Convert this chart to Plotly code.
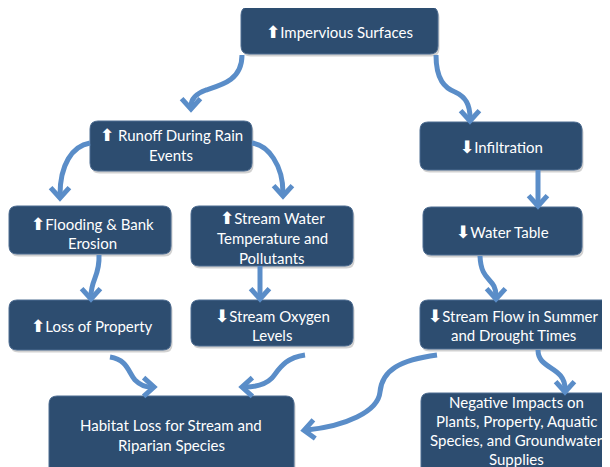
import math
import plotly.graph_objects as go

# ---- diagram content ----
UP = "<span style='font-family:DejaVu Sans;font-size:17px'><b>⬆</b></span>"
DN = "<span style='font-family:DejaVu Sans;font-size:17px'><b>⬇</b></span>"
node_labels = [
    [UP + "Impervious Surfaces"],
    [UP + " Runoff During Rain", "Events"],
    [DN + "Infiltration"],
    [UP + "Flooding & Bank", "Erosion"],
    [UP + "Stream Water", "Temperature and", "Pollutants"],
    [DN + "Water Table"],
    [UP + "Loss of Property"],
    [DN + "Stream Oxygen", "Levels"],
    [DN + "Stream Flow in Summer", "and Drought Times"],
    ["Habitat Loss for Stream and", "Riparian Species"],
    ["Negative Impacts on", "Plants, Property, Aquatic", "Species, and Groundwater", "Supplies"],
]

# ---- layout (pixel space) ----
node_boxes = [
    (241, 7, 438, 54),
    (90, 121, 252, 171),
    (420, 122, 582, 170),
    (9, 206, 171, 254),
    (191, 206, 353, 266),
    (423, 207, 582, 255),
    (9, 300, 171, 350),
    (191, 300, 353, 346),
    (420, 300, 618, 349),
    (49, 396, 294, 480),
    (421, 393, 618, 480),
]
text_pos = [
    (339, 32), (171, 145), (501, 147), (92, 233.5), (272, 238), (502, 232),
    (92, 326), (272, 325.5), (513, 325.5), (171, 435), (516, 430),
]
line_gaps = [19.8] * 10 + [19.0]

# arrows as cubic bezier segments: start, then (c1, c2, end) tuples
arrows = [
    [(242, 55), ((242, 80), (222, 85), (206, 90)), ((195, 94), (191, 99), (191, 106))],
    [(436, 55), ((436, 80), (445, 88), (455, 92)), ((466, 97), (470, 105), (470, 118))],
    [(90, 143), ((72, 146), (60, 165), (60, 195))],
    [(252, 143), ((268, 145), (283, 165), (283, 193))],
    [(99, 255), ((100, 276), (91, 279), (91, 296))],
    [(260, 266), ((260, 276), (260, 286), (260, 296))],
    [(538, 170), ((538, 182), (538, 192), (538, 203))],
    [(480, 256), ((481, 283), (496, 277), (496, 296))],
    [(538, 350), ((538, 370), (565, 366), (565, 389))],
    [(110, 357), ((128, 360), (128, 372), (135, 380)), ((140, 385), (145, 387), (151, 387))],
    [(305, 355), ((285, 358), (280, 368), (272, 378)), ((265, 385), (255, 387), (245, 387))],
    [(437, 355), ((400, 360), (382, 370), (380, 392)), ((378, 412), (345, 426), (307, 430))],
]

BOX = "#2D4D70"
BOX_EDGE = "#4D6C91"
ARROW = "#5A8DC8"

fig = go.Figure()
shapes = []


def rrect(x0, y0, x1, y1, r=8):
    return (f"M{x0+r},{y0} L{x1-r},{y0} Q{x1},{y0} {x1},{y0+r} L{x1},{y1-r} "
            f"Q{x1},{y1} {x1-r},{y1} L{x0+r},{y1} Q{x0},{y1} {x0},{y1-r} "
            f"L{x0},{y0+r} Q{x0},{y0} {x0+r},{y0} Z")


for (x0, y0, x1, y1) in node_boxes:
    shapes.append(dict(type="path", path=rrect(x0 + 1.5, y0 + 2.5, x1 + 1.5, y1 + 2.5),
                       xref="x", yref="y", fillcolor="rgba(0,0,0,0.18)",
                       line=dict(width=0), layer="below"))
    shapes.append(dict(type="path", path=rrect(x0, y0, x1, y1), xref="x", yref="y",
                       fillcolor=BOX, line=dict(color=BOX_EDGE, width=1)))

for arr in arrows:
    sx, sy = arr[0]
    p = f"M{sx},{sy}"
    for c1, c2, e in arr[1:]:
        p += f" C{c1[0]},{c1[1]} {c2[0]},{c2[1]} {e[0]},{e[1]}"
    shapes.append(dict(type="path", path=p, xref="x", yref="y",
                       line=dict(color=ARROW, width=5)))
    c2, e = arr[-1][1], arr[-1][2]
    ang = math.atan2(e[1] - c2[1], e[0] - c2[0])
    tip = (e[0] + 3 * math.cos(ang), e[1] + 3 * math.sin(ang))
    L, a = 14, math.radians(42)
    p1 = (tip[0] - L * math.cos(ang - a), tip[1] - L * math.sin(ang - a))
    p2 = (tip[0] - L * math.cos(ang + a), tip[1] - L * math.sin(ang + a))
    shapes.append(dict(type="path",
                       path=f"M{p1[0]:.1f},{p1[1]:.1f} L{tip[0]:.1f},{tip[1]:.1f} L{p2[0]:.1f},{p2[1]:.1f}",
                       xref="x", yref="y", line=dict(color=ARROW, width=5)))

annotations = []
for lines, (tx, ty), gap in zip(node_labels, text_pos, line_gaps):
    n = len(lines)
    for i, t in enumerate(lines):
        yy = ty + (i - (n - 1) / 2) * gap
        annotations.append(dict(x=tx, y=yy, xref="x", yref="y", text=t, showarrow=False,
                                font=dict(family="Lato", size=15, color="white"),
                                xanchor="center", yanchor="middle"))

# page body has an 8px margin: shift the pixel-space ranges to compensate
OFF = 8
fig.update_layout(
    width=610 - OFF, height=467 - OFF, margin=dict(l=0, r=0, t=0, b=0),
    paper_bgcolor="white", plot_bgcolor="white",
    xaxis=dict(range=[OFF, 610], visible=False, fixedrange=True),
    yaxis=dict(range=[467, OFF], visible=False, fixedrange=True),
    shapes=shapes, annotations=annotations, showlegend=False,
)
fig.write_html("out.html")
